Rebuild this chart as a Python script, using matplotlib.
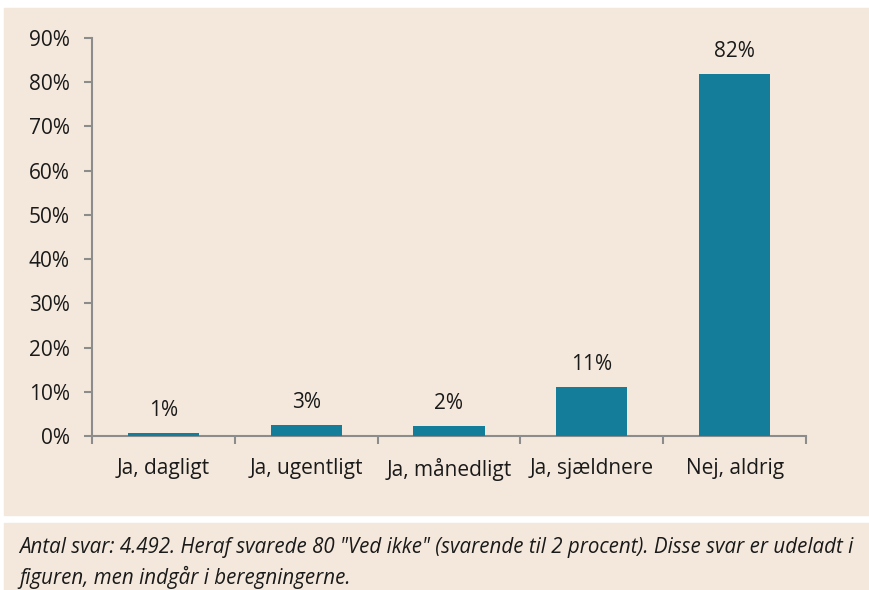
import matplotlib.pyplot as plt
from matplotlib.patches import Rectangle
from matplotlib.ticker import FixedLocator

categories = ["Ja, dagligt", "Ja, ugentligt", "Ja, månedligt", "Ja, sjældnere", "Nej, aldrig"]
values = [0.7, 2.6, 2.2, 11.1, 81.8]
y_ticks = [0, 10, 20, 30, 40, 50, 60, 70, 80, 90]
caption = ('Antal svar: 4.492. Heraf svarede 80 "Ved ikke" (svarende til 2 procent). '
           'Disse svar er udeladt i\nfiguren, men indgår i beregningerne.')

BEIGE = "#f4e8dc"
BAR = "#137d9a"
GREY = "#8c8c8c"
W, H = 870, 590

plt.rcParams["font.family"] = ["Open Sans", "DejaVu Sans"]

fig = plt.figure(figsize=(W / 100, H / 100), dpi=100, facecolor="white")
fig.patches.append(Rectangle((4 / W, (H - 515) / H), 1, (515 - 8) / H,
                             transform=fig.transFigure, color=BEIGE, zorder=-5))
fig.patches.append(Rectangle((4 / W, 0), 1, (H - 523) / H,
                             transform=fig.transFigure, color=BEIGE, zorder=-5))

ax = fig.add_axes([92 / W, (H - 436) / H, (806 - 92) / W, (436 - 38) / H])
ax.set_zorder(2)
ax.set_facecolor("none")
x = range(len(categories))
ax.bar(x, values, width=0.5, color=BAR, zorder=3)
for xi, v in zip(x, values):
    ax.annotate(f"{v:.0f}%", (xi, v), xytext=(0, 8.5), textcoords="offset points",
                ha="center", va="bottom", fontsize=15, color="#1a1a1a")

ax.set_xlim(-0.5, len(categories) - 0.5)
ax.set_ylim(0, 90)
ax.set_yticks(y_ticks)
ax.set_yticklabels([f"{t}%" for t in y_ticks], fontsize=15, color="#1a1a1a")
ax.xaxis.set_major_locator(FixedLocator([i - 0.5 for i in range(len(categories) + 1)]))
ax.xaxis.set_major_formatter(plt.NullFormatter())
ax.xaxis.set_minor_locator(FixedLocator(list(x)))
ax.set_xticklabels(categories, minor=True, fontsize=15, color="#1a1a1a")
ax.tick_params(axis="x", which="major", length=6, width=1.5, color=GREY, direction="out")
ax.tick_params(axis="x", which="minor", length=0, pad=16)
ax.tick_params(axis="y", length=6, width=1.5, color=GREY, pad=10)
for side in ("top", "right"):
    ax.spines[side].set_visible(False)
for side in ("left", "bottom"):
    ax.spines[side].set_color(GREY)
    ax.spines[side].set_linewidth(1.5)

fig.text(19 / W, (H - 563) / H, caption, fontsize=14.8, style="italic",
         color="#1a1a1a", va="center", linespacing=1.45)

fig.savefig("out.png", dpi=100, facecolor="white")
